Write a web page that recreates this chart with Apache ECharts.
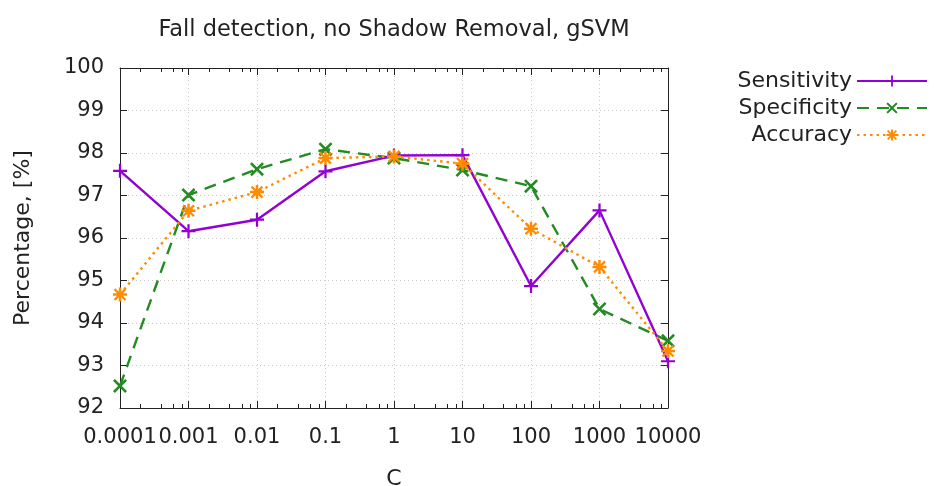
<!DOCTYPE html>
<html>
<head>
<meta charset="utf-8">
<script src="https://cdn.jsdelivr.net/npm/echarts@6/dist/echarts.min.js"></script>
<style>
html, body { margin: 0; padding: 0; background: #fff; }
#chart { width: 934px; height: 486px; }
</style>
</head>
<body>
<div id="chart"></div>
<script>
// C values (log x axis) and tick labels
var cValues = [0.0001, 0.001, 0.01, 0.1, 1, 10, 100, 1000, 10000];
var tickLabels = ['0.0001', '0.001', '0.01', '0.1', '1', '10', '100', '1000', '10000'];
var sensitivity = [97.58, 96.16, 96.43, 97.57, 97.94, 97.95, 94.87, 96.65, 93.10];
var specificity = [92.52, 97.01, 97.62, 98.09, 97.88, 97.60, 97.22, 94.33, 93.58];
var accuracy = [94.67, 96.64, 97.08, 97.88, 97.92, 97.75, 96.22, 95.32, 93.34];

// gnuplot-like minor ticks at 2,4,6,8 within each decade
var minorTicks = [];
for (var i = 0; i < cValues.length - 1; i++) {
	[2, 4, 6, 8].forEach(function(m) { minorTicks.push(cValues[i] * m); });
}

function pairs(arr) {
	return arr.map(function(v, i) { return [cValues[i], v]; });
}

var plusPath = 'path://M4.2,0 L5.8,0 L5.8,4.2 L10,4.2 L10,5.8 L5.8,5.8 L5.8,10 L4.2,10 L4.2,5.8 L0,5.8 L0,4.2 L4.2,4.2 Z';
var crossPath = 'path://M0,1.3 L1.3,0 L5,3.7 L8.7,0 L10,1.3 L6.3,5 L10,8.7 L8.7,10 L5,6.3 L1.3,10 L0,8.7 L3.7,5 Z';
var starPath = 'path://M4.1,0 L5.9,0 L5.9,3 L8.3,0.5 L9.5,1.7 L7,4.1 L10,4.1 L10,5.9 L7,5.9 L9.5,8.3 L8.3,9.5 L5.9,7 L5.9,10 L4.1,10 L4.1,7 L1.7,9.5 L0.5,8.3 L3,5.9 L0,5.9 L0,4.1 L3,4.1 L0.5,1.7 L1.7,0.5 L4.1,3 Z';

var font = 'DejaVu Sans';
var ink = '#222';
var dom = document.getElementById('chart');
var myChart = echarts.init(dom);
var option = {
	animation: false,
	textStyle: { fontFamily: font },
	title: {
		text: 'Fall detection, no Shadow Removal, gSVM',
		left: 389,
		textAlign: 'center',
		top: 14,
		textStyle: { fontFamily: font, fontSize: 22.5, fontWeight: 'normal', color: ink }
	},
	legend: {
		orient: 'vertical',
		right: 1,
		top: 65,
		align: 'right',
		itemWidth: 70,
		itemHeight: 14,
		itemGap: 5,
		textStyle: { fontFamily: font, fontSize: 22, lineHeight: 22, color: ink },
		data: ['Sensitivity', 'Specificity', 'Accuracy']
	},
	grid: { left: 120, right: 266, top: 68, bottom: 78, containLabel: false, outerBoundsMode: 'none' },
	xAxis: [{
		type: 'log',
		logBase: 10,
		min: 0.0001,
		max: 10000,
		name: 'C',
		nameLocation: 'middle',
		nameGap: 60,
		nameTextStyle: { fontFamily: font, fontSize: 22, color: ink },
		axisLine: { onZero: false, lineStyle: { color: ink, width: 1 } },
		axisTick: { inside: true, length: 7, lineStyle: { color: ink } },
		axisLabel: {
			showMinLabel: true,
			showMaxLabel: true,
			margin: 19,
			fontFamily: font,
			fontSize: 21,
			color: ink,
			formatter: function(v) {
				var k = Math.round(Math.log(v) / Math.LN10) + 4;
				return tickLabels[k] || '';
			}
		},
		splitLine: { show: true, lineStyle: { color: '#c8c8c8', type: [1, 3] } }
	}, {
		type: 'log', logBase: 10, min: 0.0001, max: 10000, position: 'bottom',
		axisLine: { show: false },
		axisTick: { show: true, inside: true, length: 4, customValues: minorTicks, lineStyle: { color: ink } },
		axisLabel: { show: false },
		splitLine: { show: false }
	}, {
		type: 'log', logBase: 10, min: 0.0001, max: 10000, position: 'top',
		axisLine: { show: true, lineStyle: { color: ink } },
		axisTick: { show: true, inside: true, length: 7, lineStyle: { color: ink } },
		axisLabel: { show: false },
		splitLine: { show: false }
	}, {
		type: 'log', logBase: 10, min: 0.0001, max: 10000, position: 'top',
		axisLine: { show: false },
		axisTick: { show: true, inside: true, length: 4, customValues: minorTicks, lineStyle: { color: ink } },
		axisLabel: { show: false },
		splitLine: { show: false }
	}],
	yAxis: [{
		type: 'value',
		min: 92,
		max: 100,
		interval: 1,
		name: 'Percentage, [%]',
		nameLocation: 'middle',
		nameGap: 86,
		nameTextStyle: { fontFamily: font, fontSize: 22, color: ink },
		axisLine: { show: true, lineStyle: { color: ink } },
		axisTick: { show: true, inside: true, length: 7, lineStyle: { color: ink } },
		axisLabel: { margin: 16, fontFamily: font, fontSize: 21, color: ink },
		splitLine: { show: true, lineStyle: { color: '#c8c8c8', type: [1, 3] } }
	}, {
		type: 'value',
		min: 92,
		max: 100,
		interval: 1,
		position: 'right',
		axisLine: { show: true, lineStyle: { color: ink } },
		axisTick: { show: true, inside: true, length: 7, lineStyle: { color: ink } },
		axisLabel: { show: false },
		splitLine: { show: false }
	}],
	series: [{
		name: 'Sensitivity',
		type: 'line',
		data: pairs(sensitivity),
		symbol: plusPath,
		symbolSize: 14,
		itemStyle: { color: '#9400d3' },
		lineStyle: { color: '#9400d3', width: 2.4 },
		z: 3
	}, {
		name: 'Specificity',
		type: 'line',
		data: pairs(specificity),
		symbol: crossPath,
		symbolSize: 14,
		itemStyle: { color: '#228b22' },
		lineStyle: { color: '#228b22', width: 2.4, type: [12, 8] },
		z: 2
	}, {
		name: 'Accuracy',
		type: 'line',
		data: pairs(accuracy),
		symbol: starPath,
		symbolSize: 14,
		itemStyle: { color: '#ff8c00' },
		lineStyle: { color: '#ff8c00', width: 2.4, type: [2.5, 4] },
		z: 4
	}]
};
if (option && typeof option === "object") {
	myChart.setOption(option, true);
}
</script>
</body>
</html>
